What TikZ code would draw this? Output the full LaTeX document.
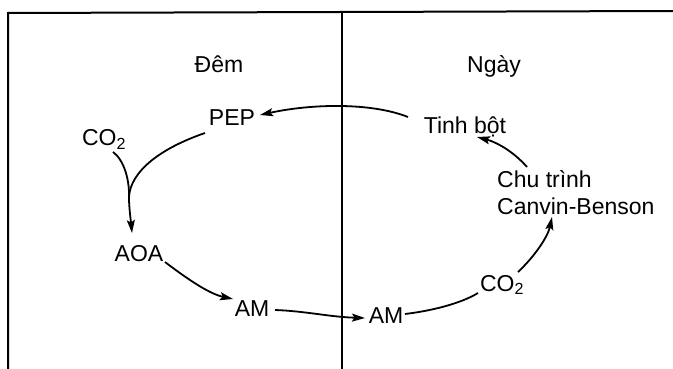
\documentclass[tikz,border=0pt]{standalone}
\usepackage{fontspec}
\setmainfont{Liberation Sans}
\usetikzlibrary{arrows.meta}

\tikzset{
  lbl/.style={inner sep=0pt, anchor=base, font=\fontsize{23}{27}\selectfont},
  frame/.style={line width=2pt},
  flow/.style={line width=1.8pt, -{Stealth[length=13pt,width=8pt,inset=2.5pt]}},
  plain/.style={line width=1.8pt}
}

\begin{document}
\begin{tikzpicture}[x=1pt,y=-1pt]
  \useasboundingbox (0,0) rectangle (673,369);

  % frame: left edge, top edge and the night/day divider
  \draw[frame] (8,369) -- (8,13) -- (673,11);
  \draw[frame] (342,12) -- (342,369);

  % column headings
  \node[lbl] (dem)  at (219,73) {Đêm};
  \node[lbl] (ngay) at (494,73) {Ngày};

  % night side
  \node[lbl] (pep)  at (232,126) {PEP};
  \node[lbl] (co2a) at (104,146) {CO\textsubscript{2}};
  \node[lbl] (aoa)  at (139,261) {AOA};
  \node[lbl] (ama)  at (252,316) {AM};

  % day side
  \node[lbl] (amb)  at (386,323) {AM};
  \node[lbl] (co2b) at (502,291) {CO\textsubscript{2}};
  \node[lbl] (tb)   at (465,133) {Tinh bột};
  \node[lbl, anchor=north west, align=left] (cb) at (497,170)
       {Chu trình\\Canvin-Benson};

  % merge point of the two branches above AOA
  \coordinate (m) at ([shift={(-10,-61)}]aoa.base);

  % starch -> PEP
  \draw[flow] ([shift={(-57,-16)}]tb.base)
     .. controls (370,102) and (310,104) .. ([shift={(28,-11)}]pep.base);
  % PEP and CO2 join, then into AOA
  \draw[plain] ([shift={(-27,7)}]pep.base)
     .. controls (150,152) and (128,178) .. (m);
  \draw[plain] ([shift={(9,6)}]co2a.base)
     .. controls (124,160) and (130,180) .. (m);
  \draw[flow] (m) .. controls (129.5,212) and (131,222) .. ([shift={(-7,-28)}]aoa.base);
  % AOA -> AM
  \draw[flow] ([shift={(26,1)}]aoa.base)
     .. controls (190,281) and (210,294) .. ([shift={(-19,-17)}]ama.base);
  % AM (night) -> AM (day)
  \draw[flow] ([shift={(23,-6)}]ama.base)
     .. controls (305,311) and (330,317) .. ([shift={(-21,-5)}]amb.base);
  % AM -> CO2
  \draw[plain] ([shift={(19,-9)}]amb.base)
     .. controls (430,311) and (460,304) .. ([shift={(-24,2)}]co2b.base);
  % CO2 -> Calvin cycle
  \draw[flow] ([shift={(16,-19)}]co2b.base)
     .. controls (536,255) and (548,236) .. ([shift={(55,47)}]cb.north west);
  % Calvin cycle -> starch
  \draw[flow] ([shift={(30,-3)}]cb.north west)
     .. controls (513,151) and (496,142) .. ([shift={(12,4)}]tb.base);
\end{tikzpicture}
\end{document}
